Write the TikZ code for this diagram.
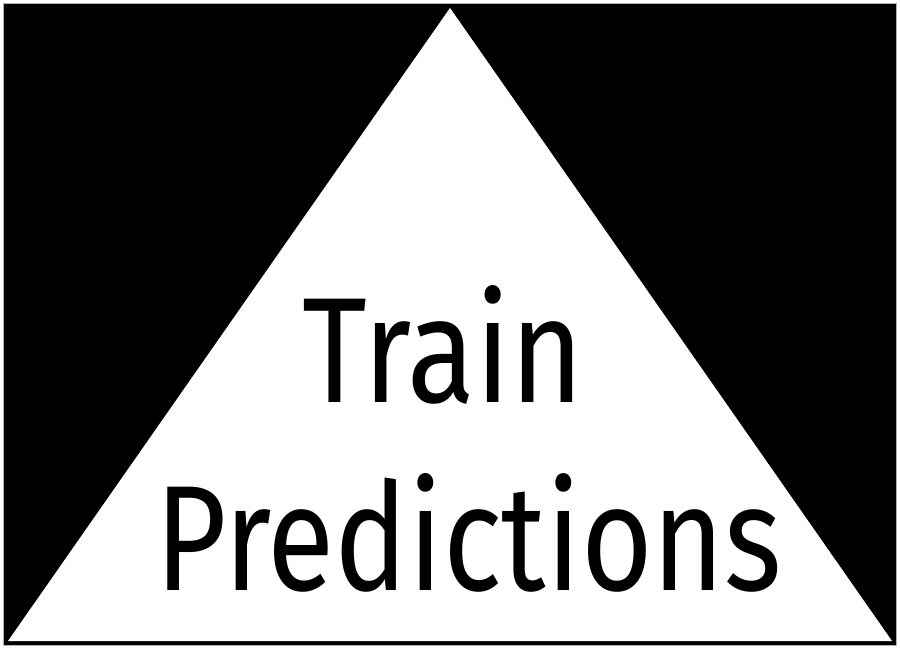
\documentclass[tikz,border=0pt]{standalone}
\usepackage{fontspec}
\setmainfont{Fira Sans}
\begin{document}
\begin{tikzpicture}[x=1pt, y=-1pt,
  word/.style={
    anchor=base west, inner sep=0pt, outer sep=0pt,
    font=\fontsize{150}{188}\selectfont, text=black
  }
]
\useasboundingbox (0,0) rectangle (900,650);
\fill[white] (0,0) rectangle (900,650);

% --- frame and triangle ---
\draw[gray!60, fill=black] (3.5,3.5) rectangle (896.5,645.5);
\fill[white] (450,8) -- (8,641) -- (892,641) -- cycle;

% --- text ---
\node[word, xscale=0.835] (train) at (302,402) {Train};
\node[word, xscale=0.82] (pred) at (155,590) {Predictions};
\end{tikzpicture}
\end{document}
